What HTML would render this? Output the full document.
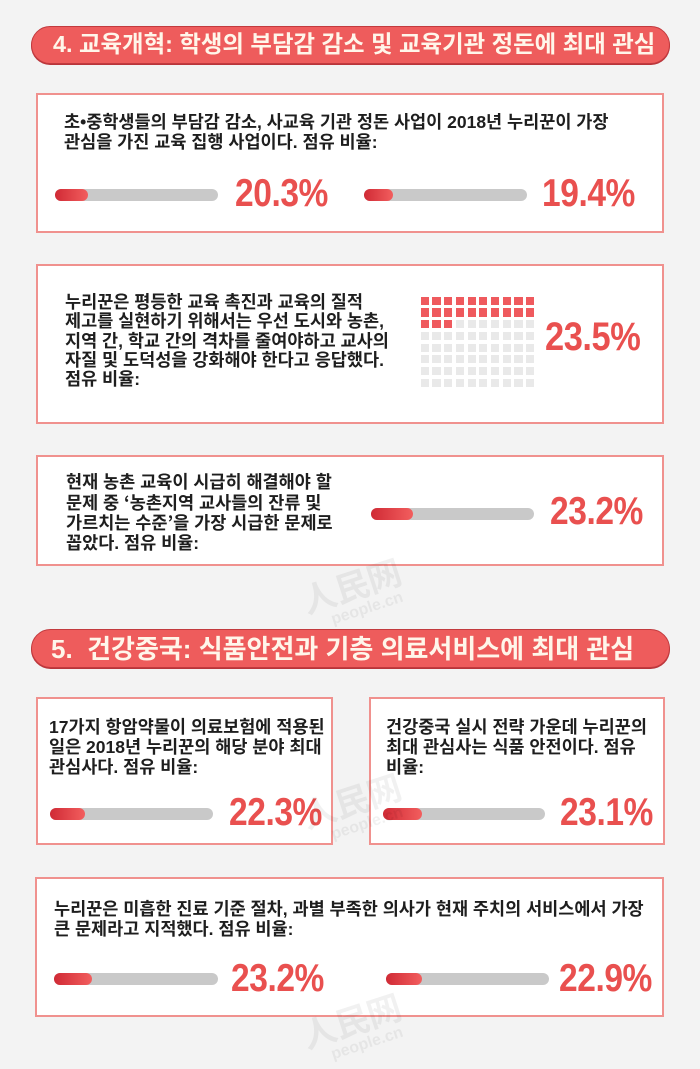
<!DOCTYPE html>
<html><head><meta charset="utf-8">
<style>
*{margin:0;padding:0;box-sizing:border-box}
html,body{width:700px;height:1069px;overflow:hidden;background:#f3f3f3}
body{position:relative;font-family:"Liberation Sans","Noto Sans CJK KR",sans-serif}
.pill{position:absolute;left:31px;width:639px;border-radius:20px;background:#ee5c5c;border:1px solid #c23a3e;box-shadow:0 1px 0 #b8343a}
.ht{position:absolute;white-space:nowrap;color:#fff6ea;font-weight:bold;line-height:1}
.box{position:absolute;background:#fff;border:2px solid #f0918e}
.t{position:absolute;white-space:nowrap;font-weight:bold;font-size:17.5px;line-height:19.5px;color:#1e1e1e}
.q{font-family:"Noto Sans CJK KR",sans-serif}
.bar{position:absolute;height:12px;border-radius:6px;background:#c9c9c9}
.bar i{position:absolute;left:0;top:0;height:12px;border-radius:6px;background:linear-gradient(90deg,#d02a35,#f25e5e)}
.p{position:absolute;font-family:"Liberation Sans",sans-serif;font-weight:bold;font-size:39px;line-height:39px;color:#e9504f;white-space:nowrap;transform:scaleX(0.86);transform-origin:0 0;letter-spacing:-0.5px}
.w{position:absolute;width:8.3px;height:8.3px;background:#e9e9e9}
.w.r{background:#ef5a5e}
.wm{position:absolute;color:rgba(0,0,0,0.055);font-weight:bold;white-space:nowrap;transform:rotate(-18deg)}
</style></head><body>

<!-- Header 1 -->
<div class="pill" style="top:26px;height:38px"></div>
<div class="ht" style="left:53px;top:33px;font-size:23.4px">4. 교육개혁: 학생의 부담감 감소 및 교육기관 정돈에 최대 관심</div>

<!-- Box 1 -->
<div class="box" style="left:36px;top:93px;width:628px;height:140px"></div>
<div class="t" style="left:64px;top:113px">초•중학생들의 부담감 감소, 사교육 기관 정돈 사업이 2018년 누리꾼이 가장<br>관심을 가진 교육 집행 사업이다. 점유 비율:</div>
<div class="bar" style="left:55px;top:189px;width:163px"><i style="width:33px"></i></div>
<div class="p" style="left:235px;top:174px">20.3%</div>
<div class="bar" style="left:364px;top:189px;width:163px"><i style="width:29px"></i></div>
<div class="p" style="left:542px;top:174px">19.4%</div>

<!-- Box 2 -->
<div class="box" style="left:36px;top:264px;width:628px;height:160px"></div>
<div class="t" style="left:65px;top:293px;line-height:19.3px">누리꾼은 평등한 교육 촉진과 교육의 질적<br>제고를 실현하기 위해서는 우선 도시와 농촌,<br>지역 간, 학교 간의 격차를 줄여야하고 교사의<br>자질 및 도덕성을 강화해야 한다고 응답했다.<br>점유 비율:</div>
<div class="p" style="left:545px;top:318px;font-size:40px">23.5%</div>

<!-- Box 3 -->
<div class="box" style="left:36px;top:455px;width:628px;height:111px"></div>
<div class="t" style="left:66px;top:473px;line-height:19.7px">현재 농촌 교육이 시급히 해결해야 할<br>문제 중 <span class="q">‘</span>농촌지역 교사들의 잔류 및<br>가르치는 수준<span class="q">’</span>을 가장 시급한 문제로<br>꼽았다. 점유 비율:</div>
<div class="bar" style="left:371px;top:508px;width:163px"><i style="width:42px"></i></div>
<div class="p" style="left:550px;top:492px">23.2%</div>

<!-- watermark 1 -->
<div class="wm" style="left:300px;top:560px;font-size:34px">人民网</div>
<div class="wm" style="left:330px;top:600px;font-size:16px">people.cn</div>

<!-- Header 2 -->
<div class="pill" style="top:629px;height:39px"></div>
<div class="ht" style="left:51px;top:636px;font-size:26px">5.&nbsp; 건강중국: 식품안전과 기층 의료서비스에 최대 관심</div>

<!-- Box 4 -->
<div class="box" style="left:36px;top:697px;width:297px;height:148px"></div>
<div class="t" style="left:49px;top:717px;line-height:20px">17가지 항암약물이 의료보험에 적용된<br>일은 2018년 누리꾼의 해당 분야 최대<br>관심사다. 점유 비율:</div>
<div class="bar" style="left:50px;top:808px;width:163px"><i style="width:35px"></i></div>
<div class="p" style="left:229px;top:793px">22.3%</div>

<!-- Box 5 -->
<div class="box" style="left:369px;top:697px;width:296px;height:148px"></div>
<div class="t" style="left:386px;top:717px;line-height:20px">건강중국 실시 전략 가운데 누리꾼의<br>최대 관심사는 식품 안전이다. 점유<br>비율:</div>
<div class="bar" style="left:383px;top:808px;width:162px"><i style="width:39px"></i></div>
<div class="p" style="left:560px;top:793px">23.1%</div>

<!-- watermark 2 -->
<div class="wm" style="left:300px;top:775px;font-size:34px">人民网</div>
<div class="wm" style="left:330px;top:815px;font-size:16px">people.cn</div>

<!-- Box 6 -->
<div class="box" style="left:35px;top:877px;width:629px;height:140px"></div>
<div class="t" style="left:54px;top:899px;line-height:20px">누리꾼은 미흡한 진료 기준 절차, 과별 부족한 의사가 현재 주치의 서비스에서 가장<br>큰 문제라고 지적했다. 점유 비율:</div>
<div class="bar" style="left:54px;top:973px;width:164px"><i style="width:38px"></i></div>
<div class="p" style="left:231px;top:959px">23.2%</div>
<div class="bar" style="left:386px;top:973px;width:163px"><i style="width:36px"></i></div>
<div class="p" style="left:559px;top:959px">22.9%</div>

<!-- watermark 3 -->
<div class="wm" style="left:300px;top:995px;font-size:34px">人民网</div>
<div class="wm" style="left:330px;top:1035px;font-size:16px">people.cn</div>

<!-- waffle squares -->
<div style="position:absolute;left:0;top:0">
<div class="w r" style="left:420.7px;top:296.7px"></div><div class="w r" style="left:432.4px;top:296.7px"></div><div class="w r" style="left:444.1px;top:296.7px"></div><div class="w r" style="left:455.8px;top:296.7px"></div><div class="w r" style="left:467.5px;top:296.7px"></div><div class="w r" style="left:479.2px;top:296.7px"></div><div class="w r" style="left:490.9px;top:296.7px"></div><div class="w r" style="left:502.6px;top:296.7px"></div><div class="w r" style="left:514.3px;top:296.7px"></div><div class="w r" style="left:526px;top:296.7px"></div>
<div class="w r" style="left:420.7px;top:308.4px"></div><div class="w r" style="left:432.4px;top:308.4px"></div><div class="w r" style="left:444.1px;top:308.4px"></div><div class="w r" style="left:455.8px;top:308.4px"></div><div class="w r" style="left:467.5px;top:308.4px"></div><div class="w r" style="left:479.2px;top:308.4px"></div><div class="w r" style="left:490.9px;top:308.4px"></div><div class="w r" style="left:502.6px;top:308.4px"></div><div class="w r" style="left:514.3px;top:308.4px"></div><div class="w r" style="left:526px;top:308.4px"></div>
<div class="w r" style="left:420.7px;top:320.1px"></div><div class="w r" style="left:432.4px;top:320.1px"></div><div class="w r" style="left:444.1px;top:320.1px"></div><div class="w" style="left:455.8px;top:320.1px"></div><div class="w" style="left:467.5px;top:320.1px"></div><div class="w" style="left:479.2px;top:320.1px"></div><div class="w" style="left:490.9px;top:320.1px"></div><div class="w" style="left:502.6px;top:320.1px"></div><div class="w" style="left:514.3px;top:320.1px"></div><div class="w" style="left:526px;top:320.1px"></div>
<div class="w" style="left:420.7px;top:331.8px"></div><div class="w" style="left:432.4px;top:331.8px"></div><div class="w" style="left:444.1px;top:331.8px"></div><div class="w" style="left:455.8px;top:331.8px"></div><div class="w" style="left:467.5px;top:331.8px"></div><div class="w" style="left:479.2px;top:331.8px"></div><div class="w" style="left:490.9px;top:331.8px"></div><div class="w" style="left:502.6px;top:331.8px"></div><div class="w" style="left:514.3px;top:331.8px"></div><div class="w" style="left:526px;top:331.8px"></div>
<div class="w" style="left:420.7px;top:343.5px"></div><div class="w" style="left:432.4px;top:343.5px"></div><div class="w" style="left:444.1px;top:343.5px"></div><div class="w" style="left:455.8px;top:343.5px"></div><div class="w" style="left:467.5px;top:343.5px"></div><div class="w" style="left:479.2px;top:343.5px"></div><div class="w" style="left:490.9px;top:343.5px"></div><div class="w" style="left:502.6px;top:343.5px"></div><div class="w" style="left:514.3px;top:343.5px"></div><div class="w" style="left:526px;top:343.5px"></div>
<div class="w" style="left:420.7px;top:355.2px"></div><div class="w" style="left:432.4px;top:355.2px"></div><div class="w" style="left:444.1px;top:355.2px"></div><div class="w" style="left:455.8px;top:355.2px"></div><div class="w" style="left:467.5px;top:355.2px"></div><div class="w" style="left:479.2px;top:355.2px"></div><div class="w" style="left:490.9px;top:355.2px"></div><div class="w" style="left:502.6px;top:355.2px"></div><div class="w" style="left:514.3px;top:355.2px"></div><div class="w" style="left:526px;top:355.2px"></div>
<div class="w" style="left:420.7px;top:366.9px"></div><div class="w" style="left:432.4px;top:366.9px"></div><div class="w" style="left:444.1px;top:366.9px"></div><div class="w" style="left:455.8px;top:366.9px"></div><div class="w" style="left:467.5px;top:366.9px"></div><div class="w" style="left:479.2px;top:366.9px"></div><div class="w" style="left:490.9px;top:366.9px"></div><div class="w" style="left:502.6px;top:366.9px"></div><div class="w" style="left:514.3px;top:366.9px"></div><div class="w" style="left:526px;top:366.9px"></div>
<div class="w" style="left:420.7px;top:378.6px"></div><div class="w" style="left:432.4px;top:378.6px"></div><div class="w" style="left:444.1px;top:378.6px"></div><div class="w" style="left:455.8px;top:378.6px"></div><div class="w" style="left:467.5px;top:378.6px"></div><div class="w" style="left:479.2px;top:378.6px"></div><div class="w" style="left:490.9px;top:378.6px"></div><div class="w" style="left:502.6px;top:378.6px"></div><div class="w" style="left:514.3px;top:378.6px"></div><div class="w" style="left:526px;top:378.6px"></div>
</div>

</body></html>
